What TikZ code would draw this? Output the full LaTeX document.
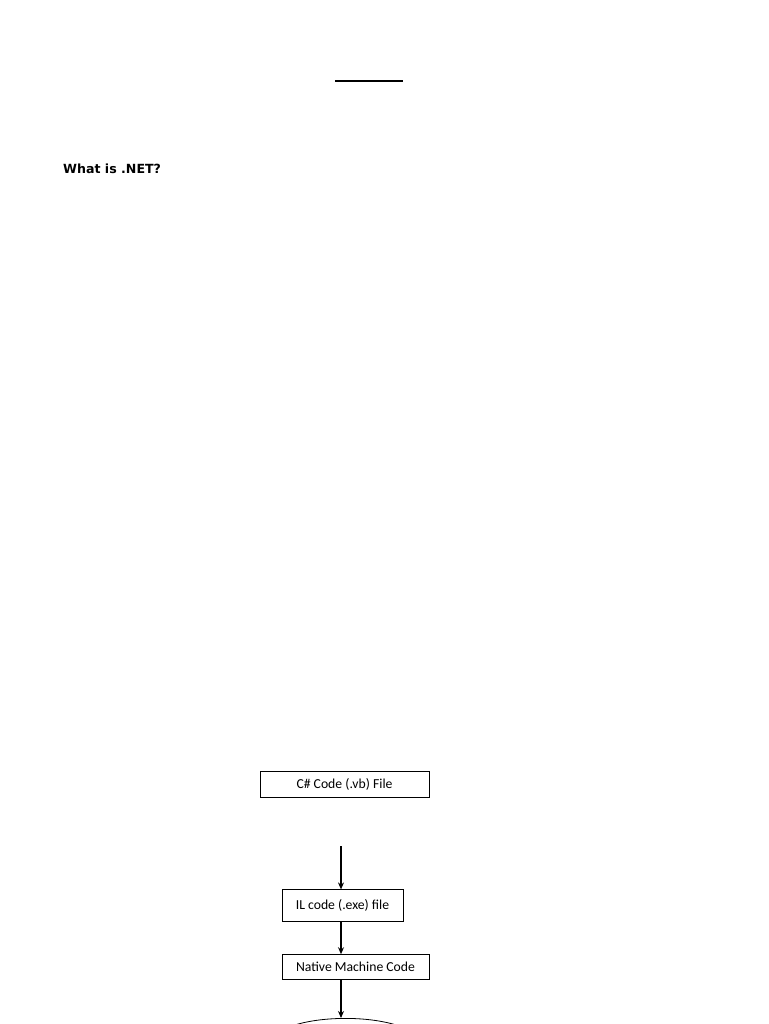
\documentclass[tikz,border=0pt]{standalone}
\usepackage{fontspec}
\setmainfont{Carlito}
\newfontfamily\headfont{DejaVu Sans}
\usetikzlibrary{positioning,arrows.meta,shapes.geometric}
\tikzset{>={Stealth[length=7pt,width=6pt]}, node distance=30pt,
every box/.style={draw,line width=0.8pt,inner sep=0pt,font=\fontsize{13.7}{16}\selectfont}, % the boxes of the flow
flow/.style={->,line width=1.1pt}, % the arrows between boxes
}

\begin{document}
\begin{tikzpicture}[x=1pt,y=-1pt]
    \useasboundingbox (0,0) rectangle (768,1024);
    \clip (0,0) rectangle (768,1024);
    \draw[line width=2pt] (335,81.5) -- (403,81.5);
    \node[anchor=base west,inner sep=0pt,font=\headfont\bfseries\fontsize{12.6}{15}\selectfont] (heading) at (63,174) {What is .NET?};

    \node[every box,minimum width=169pt,minimum height=26pt] (cs) at (344.5,784) {C\# Code (.vb) File};
    \node[every box,minimum width=121pt,minimum height=32pt,below=92pt of cs,xshift=-2pt] (il) {IL code (.exe) file};
    \node[every box,minimum width=147pt,minimum height=25pt,below=32pt of il,xshift=13pt] (native) {Native Machine Code};
    \node[ellipse,draw,line width=0.8pt,minimum width=150pt,minimum height=50pt,below=38pt of native,xshift=-10pt] (run) {};
    \coordinate (src) at (341,846);

    \draw[flow] (src) -- (src |- il.north);
    \draw[flow] (src |- il.south) -- (src |- native.north);
    \draw[flow] (src |- native.south) -- (src |- run.north);
\end{tikzpicture}
\end{document}
